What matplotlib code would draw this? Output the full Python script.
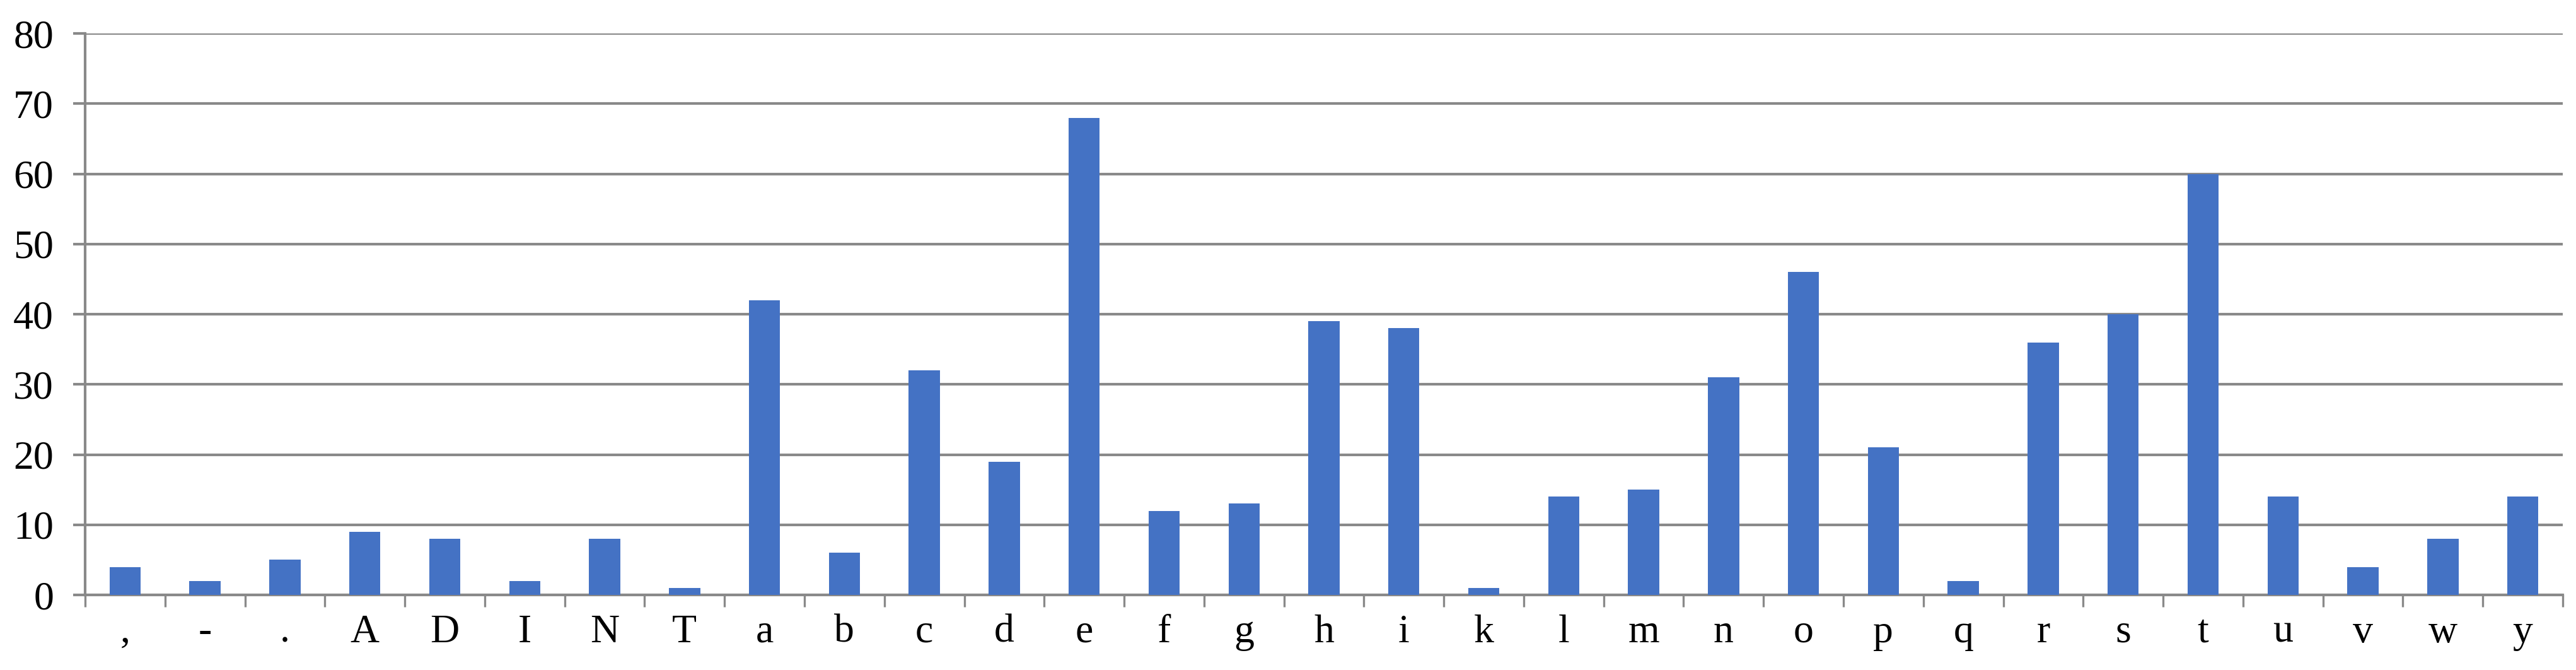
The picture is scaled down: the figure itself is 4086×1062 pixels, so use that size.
import matplotlib
matplotlib.use("Agg")
import matplotlib.pyplot as plt
import numpy as np

# character counts
chars = [",", "-", ".", "A", "D", "I", "N", "T", "a", "b", "c", "d", "e", "f",
         "g", "h", "i", "k", "l", "m", "n", "o", "p", "q", "r", "s", "t", "u",
         "v", "w", "y"]
counts = [4, 2, 5, 9, 8, 2, 8, 1, 42, 6, 32, 19, 68, 12,
          13, 39, 38, 1, 14, 15, 31, 46, 21, 2, 36, 40, 60, 14,
          4, 8, 14]
y_ticks = [0, 10, 20, 30, 40, 50, 60, 70, 80]

gray = "#898989"
blue = "#4472C4"

plt.rcParams['font.family'] = ['Liberation Serif', 'DejaVu Serif']

fig = plt.figure(figsize=(40.86, 10.62), dpi=100)
ax = fig.add_axes([0.03304, 0.11205, 0.96182, 0.83804])

x = np.arange(len(chars))
ax.bar(x, counts, width=0.39, color=blue, zorder=3)

ax.set_xlim(-0.5, len(chars) - 0.5)
ax.set_ylim(0, 80)

# gridlines
ax.set_yticks(y_ticks)
ax.yaxis.grid(True, color=gray, linewidth=3, zorder=0)
ax.set_axisbelow(True)

# x ticks at category borders, labels at centres
ax.set_xticks(np.arange(-0.5, len(chars), 1.0))
ax.set_xticklabels([])
ax.set_xticks(x, minor=True)
ax.set_xticklabels(chars, minor=True, fontsize=46)
ax.tick_params(axis='x', which='major', length=14, width=2.4, color=gray, direction='out')
ax.tick_params(axis='x', which='minor', length=0, pad=22)
ax.tick_params(axis='y', length=14, width=3, color=gray, labelsize=46, pad=22)

for s in ['top', 'right']:
    ax.spines[s].set_visible(False)
for s in ['left', 'bottom']:
    ax.spines[s].set_color(gray)
    ax.spines[s].set_linewidth(3)

fig.savefig("out.png", dpi=100)
